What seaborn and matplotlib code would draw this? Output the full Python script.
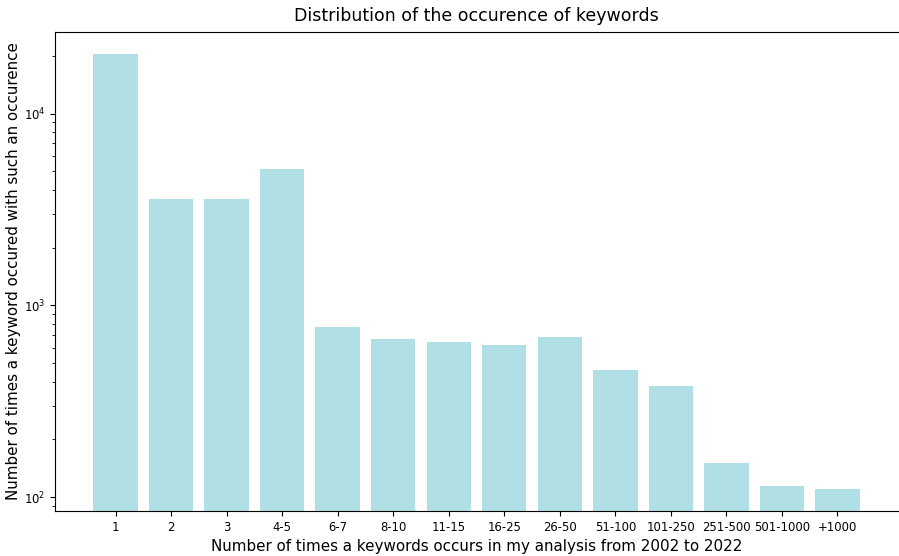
import matplotlib
matplotlib.use('Agg')
import matplotlib.pyplot as plt
import seaborn as sns
import pandas as pd

categories = ['1', '2', '3', '4-5', '6-7', '8-10', '11-15', '16-25', '26-50',
              '51-100', '101-250', '251-500', '501-1000', '+1000']
counts = [20500, 3575, 3575, 5120, 769, 666, 643, 620, 682,
          459, 378, 150, 115, 110]

df = pd.DataFrame({'occurence': categories, 'count': counts})

fig = plt.figure(figsize=(8.99, 5.56), dpi=100)
ax = fig.add_axes([55 / 899, 1 - 511 / 556, 843 / 899, 479 / 556])

sns.barplot(data=df, x='occurence', y='count', color='powderblue',
            saturation=1, width=0.8, ax=ax)
ax.set_yscale('log')
ax.set_xlim(-1.09, 14.09)
ax.set_ylim(84.7, 26600)
ax.spines['right'].set_visible(False)

ax.set_title('Distribution of the occurence of keywords', fontsize=12.5, pad=8)
ax.set_xlabel('Number of times a keywords occurs in my analysis from 2002 to 2022',
              fontsize=10.9, labelpad=4)
ax.set_ylabel('Number of times a keyword occured with such an occurence',
              fontsize=10.9, labelpad=2)
ax.tick_params(axis='both', labelsize=8.4)

fig.savefig('out.png', dpi=100)
